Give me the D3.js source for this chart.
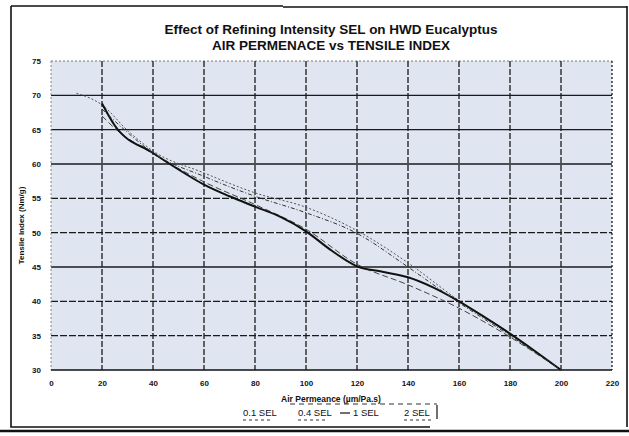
<!DOCTYPE html>
<html>
<head>
<meta charset="utf-8">
<script src="https://cdn.jsdelivr.net/npm/d3@7"></script>
<style>
  body { margin: 0; background: #fff; }
  text { font-family: "Liberation Sans", Arial, sans-serif; }
</style>
</head>
<body>
<svg id="chart" width="629" height="436"></svg>
<script>
// data
const xTicks = [0, 20, 40, 60, 80, 100, 120, 140, 160, 180, 200, 220];
const yTicks = [30, 35, 40, 45, 50, 55, 60, 65, 70, 75];
const seriesNames = ["0.1 SEL", "0.4 SEL", "1 SEL", "2 SEL"];

const sel01 = [[10, 70.3], [20, 68.6], [30, 64.9], [40, 61.9], [60, 58.7], [80, 55.8], [100, 53.7], [120, 50.3], [140, 45.6], [160, 40.1], [180, 35.2], [200, 30]];
const sel04 = [[20, 67.0], [25, 65.2], [40, 61.5], [60, 57.4], [80, 54.1], [100, 50.5], [120, 45.4], [140, 42.4], [160, 39.0], [180, 34.8], [200, 30]];
const sel1  = [[20, 68.8], [25, 65.6], [40, 61.6], [50, 59.2], [60, 57.0], [70, 55.3], [80, 53.8], [90, 52.3], [100, 50.2], [110, 47.4], [120, 45.1], [130, 44.3], [140, 43.5], [150, 42.0], [160, 40.0], [170, 37.7], [180, 35.3], [190, 32.7], [200, 30]];
const sel2  = [[20, 68.0], [30, 64.6], [40, 61.6], [60, 58.2], [80, 55.3], [100, 52.9], [120, 49.9], [140, 45.0], [160, 39.8], [180, 35.0], [200, 30]];

const svg = d3.select("#chart");
const plot = {left: 51, right: 612, top: 61, bottom: 370};

const x = d3.scaleLinear().domain([0, 220]).range([plot.left, plot.right]);
const y = d3.scaleLinear().domain([30, 75]).range([plot.bottom, plot.top]);

// outer frame of the scanned box
svg.append("path")
  .attr("d", "M11,6 H283 M283,7 H627 M11,6 V427 H430 M627,6 V427")
  .attr("fill", "none").attr("stroke", "#111").attr("stroke-width", 1.6);
svg.append("line").attr("x1", 0).attr("x2", 629).attr("y1", 431).attr("y2", 431)
  .attr("stroke", "#111").attr("stroke-width", 2.5);

// titles
svg.append("text").attr("x", 331).attr("y", 34).attr("text-anchor", "middle")
  .attr("font-size", 13.5).attr("font-weight", "bold").attr("fill", "#111")
  .text("Effect of Refining Intensity SEL on HWD Eucalyptus");
svg.append("text").attr("x", 331).attr("y", 50).attr("text-anchor", "middle")
  .attr("font-size", 13.5).attr("font-weight", "bold").attr("fill", "#111")
  .text("AIR PERMENACE vs TENSILE INDEX");

// plot background
svg.append("rect").attr("x", plot.left).attr("y", plot.top)
  .attr("width", plot.right - plot.left).attr("height", plot.bottom - plot.top)
  .attr("fill", "#dfe6f1");

// gridlines
const solidRows = [70, 65, 60, 45];
svg.append("g").selectAll("line").data(yTicks.filter(v => v > 30 && v < 75)).join("line")
  .attr("x1", plot.left).attr("x2", plot.right)
  .attr("y1", d => y(d)).attr("y2", d => y(d))
  .attr("stroke", "#1a1a1a").attr("stroke-width", 1.3)
  .attr("stroke-dasharray", d => solidRows.includes(d) ? null : "7,2");
svg.append("line").attr("x1", plot.left).attr("x2", plot.right)
  .attr("y1", y(75)).attr("y2", y(75))
  .attr("stroke", "#777").attr("stroke-width", 1).attr("stroke-dasharray", "2,2");
svg.append("g").selectAll("line").data(xTicks.filter(v => v > 0)).join("line")
  .attr("x1", d => x(d)).attr("x2", d => x(d))
  .attr("y1", plot.top).attr("y2", plot.bottom)
  .attr("stroke", "#1a1a1a").attr("stroke-width", 1.3)
  .attr("stroke-dasharray", d => d === 220 ? "2,2" : "6,2");
svg.append("line").attr("x1", plot.left).attr("x2", plot.left)
  .attr("y1", plot.top).attr("y2", plot.bottom)
  .attr("stroke", "#888").attr("stroke-width", 1).attr("stroke-dasharray", "2,2");
svg.append("line").attr("x1", plot.left).attr("x2", plot.right)
  .attr("y1", plot.bottom).attr("y2", plot.bottom)
  .attr("stroke", "#111").attr("stroke-width", 1.5);

// axes (labels only, ticks hidden)
const xAxis = d3.axisBottom(x).tickValues(xTicks).tickSize(0).tickPadding(10);
const yAxis = d3.axisLeft(y).tickValues(yTicks).tickSize(0).tickPadding(10);
svg.append("g").attr("transform", `translate(0,${plot.bottom})`).call(xAxis)
  .call(g => g.select(".domain").remove())
  .selectAll("text").attr("font-size", 8).attr("font-weight", "bold").attr("fill", "#111")
  .attr("font-family", "Liberation Sans, Arial, sans-serif");
svg.append("g").attr("transform", `translate(${plot.left},0)`).call(yAxis)
  .call(g => g.select(".domain").remove())
  .selectAll("text").attr("font-size", 8).attr("font-weight", "bold").attr("fill", "#111")
  .attr("font-family", "Liberation Sans, Arial, sans-serif");

svg.append("text").attr("transform", `translate(24,${(plot.top + plot.bottom) / 2 + 10}) rotate(-90)`)
  .attr("text-anchor", "middle").attr("font-size", 8).attr("font-weight", "bold").attr("fill", "#111")
  .text("Tensile Index (Nm/g)");
svg.append("text").attr("x", 331).attr("y", 402).attr("text-anchor", "middle")
  .attr("font-size", 8.5).attr("font-weight", "bold").attr("fill", "#111")
  .text("Air Permeance (\u00b5m/Pa.s)");

// series
const line = d3.line().x(d => x(d[0])).y(d => y(d[1])).curve(d3.curveMonotoneX);
const styles = [
  {data: sel01, color: "#555", width: 1, dash: "2,2"},
  {data: sel04, color: "#444", width: 1, dash: "6,3"},
  {data: sel1,  color: "#111", width: 2, dash: null},
  {data: sel2,  color: "#333", width: 1, dash: "4,2,1,2"}
];
svg.append("g").selectAll("path").data(styles).join("path")
  .attr("d", d => line(d.data))
  .attr("fill", "none").attr("stroke", d => d.color)
  .attr("stroke-width", d => d.width).attr("stroke-dasharray", d => d.dash);

// legend
const legendX = [243, 298, 340, 404];
const lg = svg.append("g").selectAll("g").data(seriesNames).join("g")
  .attr("transform", (d, i) => `translate(${legendX[i]},416)`);
lg.append("line").attr("x1", 0).attr("x2", (d, i) => i === 2 ? 10 : 0)
  .attr("y1", -3).attr("y2", -3)
  .attr("stroke", "#111").attr("stroke-width", 1.2);
lg.append("text").attr("x", (d, i) => i === 2 ? 13 : 0).attr("y", 0)
  .attr("font-size", 9.5).attr("fill", "#111").text(d => d);
lg.append("line").attr("x1", 0).attr("x2", (d, i) => i === 2 ? 0 : 28)
  .attr("y1", 4).attr("y2", 4)
  .attr("stroke", "#333").attr("stroke-width", 1).attr("stroke-dasharray", "3,3");
svg.append("line").attr("x1", 437).attr("x2", 437).attr("y1", 405).attr("y2", 419)
  .attr("stroke", "#111").attr("stroke-width", 1.2);
svg.append("line").attr("x1", 290).attr("x2", 437).attr("y1", 404).attr("y2", 404)
  .attr("stroke", "#333").attr("stroke-width", 1).attr("stroke-dasharray", "5,4");
</script>
</body>
</html>
